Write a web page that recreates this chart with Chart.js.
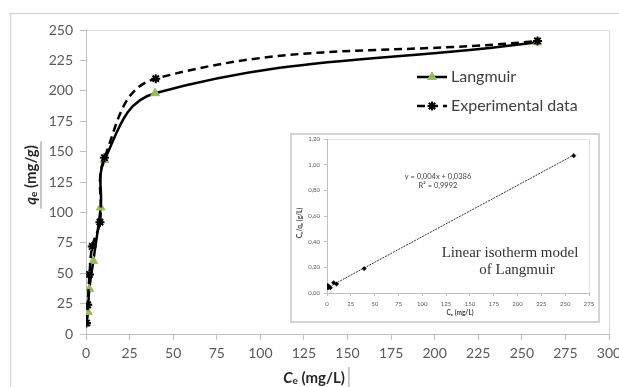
<!DOCTYPE html>
<html><head><meta charset="utf-8">
<script src="https://cdn.jsdelivr.net/npm/chart.js@4.4.1/dist/chart.umd.min.js"></script>
<style>
html,body{margin:0;padding:0;background:#fff;}
#wrap{position:relative;width:619px;height:387px;overflow:hidden;}
#main{position:absolute;left:0;top:0;}
#inset{position:absolute;left:290px;top:133px;}
</style></head><body>
<div id="wrap">
<canvas id="main" width="619" height="387"></canvas>
<canvas id="inset" width="310" height="190"></canvas>
</div>
<script>
// ---- main chart data ----
const langCe = [0.3, 1.1, 1.9, 4.2, 8.4, 10.6, 39.6, 259];
const langQe = [9, 18, 37, 60, 104, 143, 198, 240];
const expCe  = [0.3, 1.0, 2.0, 3.6, 8.0, 10.6, 40, 259];
const expQe  = [9, 24, 49, 72, 92, 145, 210, 241];
const xTicksMain = [0, 25, 50, 75, 100, 125, 150, 175, 200, 225, 250, 275, 300];
const yTicksMain = [0, 25, 50, 75, 100, 125, 150, 175, 200, 225, 250];
const seriesNames = ['Langmuir', 'Experimental data'];
// ---- inset data ----
const linCe = [0.5, 1, 2, 3.5, 7, 10, 39, 259];
const linRatio = [0.06, 0.04, 0.05, 0.04, 0.08, 0.07, 0.19, 1.07];
const trendCe = [0, 259];
const trendRatio = [0.039, 1.075];
const xTicksInset = [0, 25, 50, 75, 100, 125, 150, 175, 200, 225, 250, 275];
const yTicksInset = [0, 0.2, 0.4, 0.6, 0.8, 1.0, 1.2];
const eqText = ['y = 0,004x + 0,0386', 'R\u00B2 = 0,9992'];
const insetNote = ['Linear isotherm model', 'of Langmuir'];

const pts = (xs, ys) => xs.map((x, i) => ({x: x, y: ys[i]}));
const FONT = 'Lato, "Open Sans", sans-serif';
const GREEN = '#9BBB59';

function drawRich(ctx, parts, cx, cy) {
  let w = 0;
  parts.forEach(p => { ctx.font = p.font; w += ctx.measureText(p.t).width; });
  let x = cx - w / 2;
  ctx.textBaseline = 'middle';
  ctx.textAlign = 'left';
  parts.forEach(p => { ctx.font = p.font; ctx.fillText(p.t, x, cy + (p.dy || 0)); x += ctx.measureText(p.t).width; });
  return w;
}

const mainDecor = {
  id: 'mainDecor',
  beforeDraw(chart) {
    const ctx = chart.ctx, a = chart.chartArea;
    ctx.save();
    ctx.fillStyle = '#fff';
    ctx.fillRect(0, 0, chart.width, chart.height);
    ctx.strokeStyle = '#D9D9D9'; ctx.lineWidth = 1.5;
    ctx.strokeRect(10.5, 13.5, 700, 500);
    ctx.strokeStyle = '#D9D9D9'; ctx.lineWidth = 1;
    ctx.strokeRect(a.left + 0.5, a.top + 0.5, a.right - a.left, a.bottom - a.top);
    ctx.restore();
  },
  afterDraw(chart) {
    const ctx = chart.ctx;
    ctx.save();
    ctx.fillStyle = '#262626';
    const wx = drawRich(ctx, [
      {t: 'C', font: 'italic bold 15px ' + FONT},
      {t: 'e', font: 'bold 10px ' + FONT, dy: 3},
      {t: ' (mg/L)', font: 'bold 15px ' + FONT}
    ], 314, 378);
    ctx.strokeStyle = '#C8C8C8'; ctx.lineWidth = 2;
    ctx.beginPath(); ctx.moveTo(314 + wx / 2 + 4, 367); ctx.lineTo(314 + wx / 2 + 4, 387); ctx.stroke();
    ctx.save();
    ctx.translate(31, 175); ctx.rotate(-Math.PI / 2);
    ctx.fillStyle = '#262626';
    const wy = drawRich(ctx, [
      {t: 'q', font: 'italic bold 15px ' + FONT},
      {t: 'e', font: 'bold 10px ' + FONT, dy: 3},
      {t: ' (mg/g)', font: 'bold 15px ' + FONT}
    ], 0, 0);
    ctx.restore();
    ctx.strokeStyle = '#C8C8C8'; ctx.lineWidth = 2;
    ctx.beginPath(); ctx.moveTo(41, 175 - wy / 2 - 4); ctx.lineTo(41, 175 + wy / 2 + 4); ctx.stroke();
    // legend
    const ds = chart.data.datasets;
    const rows = [77, 106];
    rows.forEach((y, i) => {
      const d = ds[i];
      ctx.save();
      ctx.strokeStyle = d.borderColor; ctx.lineWidth = d.borderWidth;
      ctx.setLineDash(d.borderDash || []);
      ctx.beginPath(); ctx.moveTo(417, y); ctx.lineTo(447, y); ctx.stroke();
      ctx.restore();
      ctx.save();
      ctx.fillStyle = d.pointBackgroundColor; ctx.strokeStyle = d.pointBorderColor;
      ctx.lineWidth = d.pointBorderWidth;
      Chart.helpers.drawPoint(ctx, {pointStyle: d.pointStyle, radius: d.pointRadius, borderWidth: d.pointBorderWidth, rotation: 0}, 432, y);
      ctx.restore();
      ctx.fillStyle = '#404040';
      ctx.font = '16px ' + FONT; ctx.textAlign = 'left'; ctx.textBaseline = 'middle';
      ctx.fillText(d.label, 451, y);
    });
    ctx.restore();
  }
};

new Chart(document.getElementById('main'), {
  type: 'scatter',
  data: {
    datasets: [
      {label: seriesNames[0], data: pts(langCe, langQe), showLine: true, tension: 0.4, order: 1,
       borderColor: '#000', borderWidth: 2.5, pointStyle: 'triangle', pointRadius: 5,
       pointBackgroundColor: GREEN, pointBorderColor: GREEN, pointBorderWidth: 1},
      {label: seriesNames[1], data: pts(expCe, expQe), showLine: true, tension: 0.4, order: 0,
       borderColor: '#000', borderWidth: 2.5, borderDash: [8, 5], pointStyle: 'star', pointRadius: 4.5,
       pointBackgroundColor: '#000', pointBorderColor: '#000', pointBorderWidth: 2}
    ]
  },
  options: {
    responsive: false, animation: false, devicePixelRatio: 1,
    layout: {padding: {left: 0, right: 10, top: 30, bottom: 0}},
    plugins: {legend: {display: false}, tooltip: {enabled: false}},
    scales: {
      x: {type: 'linear', min: 0, max: 300,
          afterBuildTicks: s => { s.ticks = xTicksMain.map(v => ({value: v})); },
          afterFit: s => { s.height = 53; s.paddingLeft = 0; s.paddingRight = 0; },
          grid: {drawOnChartArea: false, drawTicks: true, tickLength: 6, color: '#BFBFBF'},
          border: {color: '#BFBFBF', width: 1},
          ticks: {font: {family: FONT, size: 14}, color: '#595959', padding: 5, maxRotation: 0, autoSkip: false}},
      y: {type: 'linear', min: 0, max: 250,
          afterBuildTicks: s => { s.ticks = yTicksMain.map(v => ({value: v})); },
          afterFit: s => { s.width = 86; s.paddingTop = 0; s.paddingBottom = 0; },
          grid: {drawOnChartArea: false, drawTicks: true, tickLength: 6, color: '#BFBFBF'},
          border: {color: '#BFBFBF', width: 1},
          ticks: {font: {family: FONT, size: 14}, color: '#595959', padding: 7, autoSkip: false}}
    }
  },
  plugins: [mainDecor]
});

// ---- inset ----
const insetDecor = {
  id: 'insetDecor',
  beforeDraw(chart) {
    const ctx = chart.ctx, a = chart.chartArea;
    ctx.save();
    ctx.fillStyle = '#fff'; ctx.fillRect(0, 0, chart.width, chart.height);
    ctx.strokeStyle = '#D4D4D4'; ctx.lineWidth = 2;
    ctx.strokeRect(1, 1, chart.width - 2, chart.height - 2);
    ctx.strokeStyle = '#E0E0E0'; ctx.lineWidth = 1;
    ctx.strokeRect(a.left + 0.5, a.top + 0.5, a.right - a.left, a.bottom - a.top);
    ctx.restore();
  },
  afterDraw(chart) {
    const ctx = chart.ctx;
    ctx.save();
    ctx.fillStyle = '#404040';
    ctx.font = '7.5px ' + FONT; ctx.textAlign = 'center'; ctx.textBaseline = 'middle';
    ctx.fillText(eqText[0], 148, 44);
    ctx.fillText(eqText[1], 148, 53);
    ctx.fillStyle = '#333';
    ctx.font = '15px "Liberation Serif", "DejaVu Serif", serif';
    ctx.fillText(insetNote[0], 220, 120);
    ctx.fillText(insetNote[1], 227, 137);
    ctx.fillStyle = '#404040';
    drawRich(ctx, [
      {t: 'C', font: 'bold 6.5px ' + FONT},
      {t: 'e', font: 'bold 4.5px ' + FONT, dy: 1.5},
      {t: ' (mg/L)', font: 'bold 6.5px ' + FONT}
    ], 170, 180);
    ctx.save();
    ctx.translate(10, 90); ctx.rotate(-Math.PI / 2);
    drawRich(ctx, [
      {t: 'C', font: 'bold 6.5px ' + FONT},
      {t: 'e', font: 'bold 4.5px ' + FONT, dy: 1.5},
      {t: '/q', font: 'bold 6.5px ' + FONT},
      {t: 'e', font: 'bold 4.5px ' + FONT, dy: 1.5},
      {t: ' (g/L)', font: 'bold 6.5px ' + FONT}
    ], 0, 0);
    ctx.restore();
    ctx.restore();
  }
};

new Chart(document.getElementById('inset'), {
  type: 'scatter',
  data: {
    datasets: [
      {label: 'data', data: pts(linCe, linRatio), showLine: false,
       pointStyle: 'rectRot', pointRadius: 2.2, pointBackgroundColor: '#000', pointBorderColor: '#000', pointBorderWidth: 0.5},
      {label: 'trend', data: pts(trendCe, trendRatio), showLine: true, borderColor: '#333', borderWidth: 1,
       borderDash: [2, 1], pointRadius: 0}
    ]
  },
  options: {
    responsive: false, animation: false, devicePixelRatio: 1,
    layout: {padding: {left: 0, right: 11, top: 6, bottom: 0}},
    plugins: {legend: {display: false}, tooltip: {enabled: false}},
    scales: {
      x: {type: 'linear', min: 0, max: 275,
          afterBuildTicks: s => { s.ticks = xTicksInset.map(v => ({value: v})); },
          afterFit: s => { s.height = 30; s.paddingLeft = 0; s.paddingRight = 0; },
          grid: {drawOnChartArea: false, drawTicks: true, tickLength: 3, color: '#BFBFBF'},
          border: {color: '#BFBFBF', width: 1},
          ticks: {font: {family: FONT, size: 6}, color: '#595959', padding: 4, maxRotation: 0, autoSkip: false}},
      y: {type: 'linear', min: 0, max: 1.2,
          afterBuildTicks: s => { s.ticks = yTicksInset.map(v => ({value: v})); },
          afterFit: s => { s.width = 37; s.paddingTop = 0; s.paddingBottom = 0; },
          grid: {drawOnChartArea: false, drawTicks: true, tickLength: 3, color: '#BFBFBF'},
          border: {color: '#BFBFBF', width: 1},
          ticks: {font: {family: FONT, size: 6}, color: '#595959', padding: 4, autoSkip: false,
                  callback: v => v.toFixed(2).replace('.', ',')}}
    }
  },
  plugins: [insetDecor]
});
</script>
</body></html>
